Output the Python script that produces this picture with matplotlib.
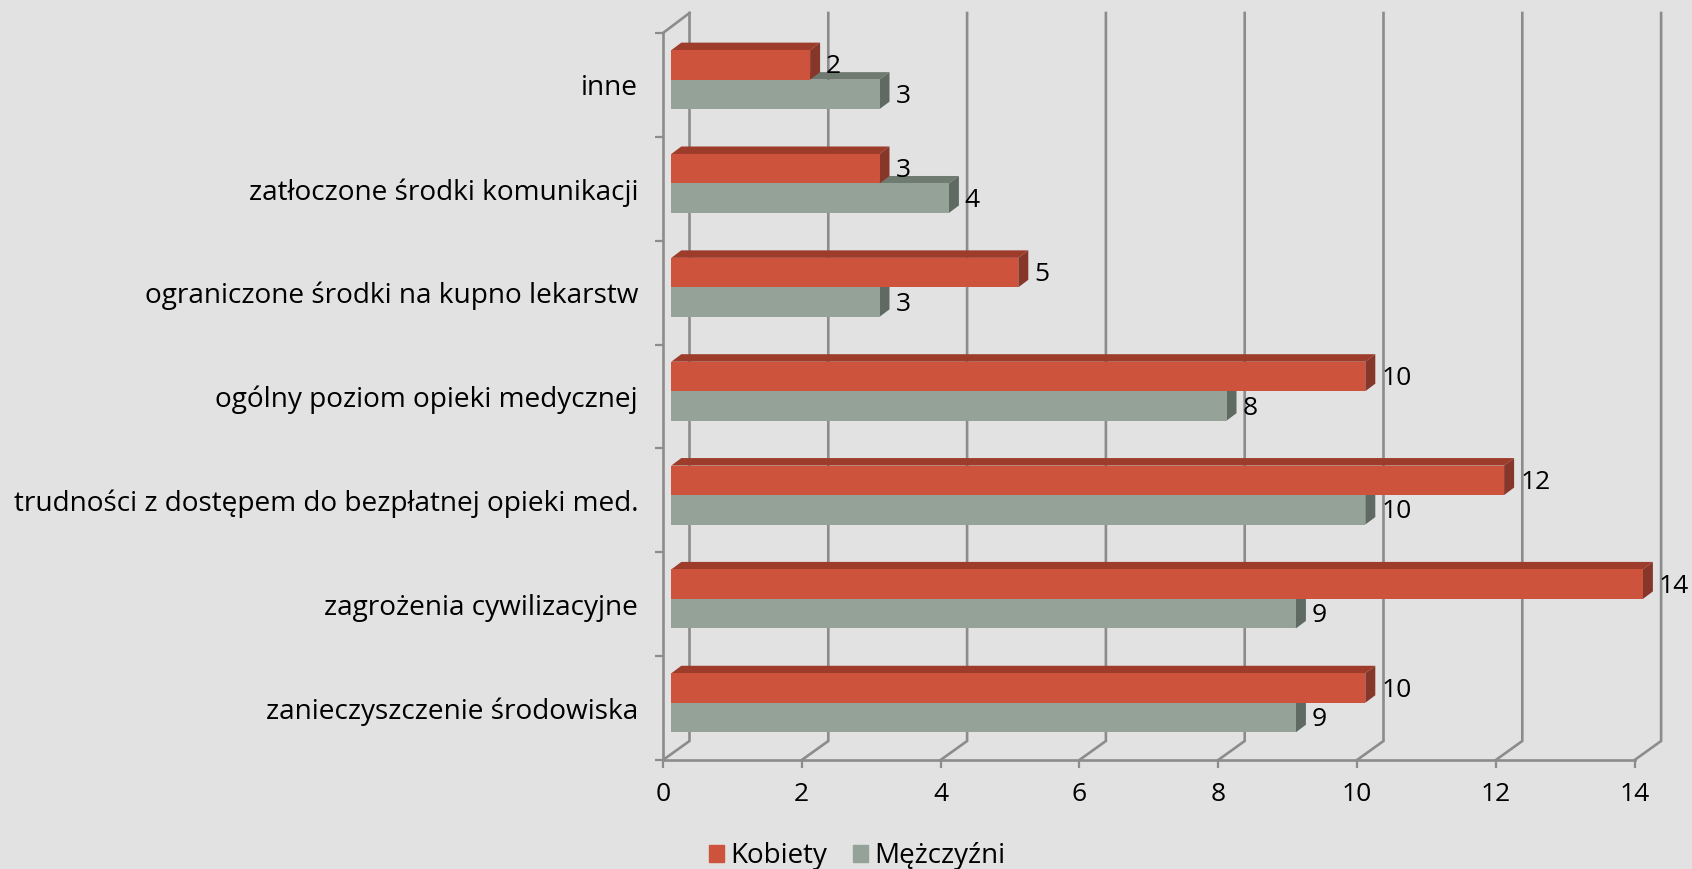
import matplotlib
matplotlib.use('Agg')
import matplotlib.pyplot as plt
from matplotlib.patches import Polygon, Patch
import numpy as np

plt.rcParams['font.family'] = ['Open Sans', 'DejaVu Sans']

categories = ['zanieczyszczenie środowiska', 'zagrożenia cywilizacyjne',
              'trudności z dostępem do bezpłatnej opieki med.',
              'ogólny poziom opieki medycznej', 'ograniczone środki na kupno lekarstw',
              'zatłoczone środki komunikacji', 'inne']
kobiety = [10, 14, 12, 10, 5, 3, 2]
mezczyzni = [9, 9, 10, 8, 3, 4, 3]
xticks = [0, 2, 4, 6, 8, 10, 12, 14]

W, H = 1692, 869
left, right, top, bottom = 663, 1634.6, 33, 760
px_x = 14 / (right - left)      # one pixel in x units
px_y = 7 / (bottom - top)       # one pixel in y units

fig = plt.figure(figsize=(W / 100, H / 100), dpi=100, facecolor='#e2e2e2')
ax = fig.add_axes([left / W, 1 - bottom / H, (right - left) / W, (bottom - top) / H])
ax.set_facecolor('none')
ax.set_xlim(0, 14)
ax.set_ylim(-0.5, 6.5)

line_c = '#8c8c8c'
# back wall and floor lines
back_x, back_y = 26.5 * px_x, 19 * px_y
wall_top = 6.5 + 20 * px_y
for v in xticks:
    ax.plot([v, v + back_x, v + back_x], [-0.5, -0.5 + back_y, wall_top], color=line_c, lw=1.9,
            clip_on=False, zorder=1, solid_joinstyle='miter')
ax.plot([0, back_x], [6.5, wall_top], color=line_c, lw=1.9, clip_on=False, zorder=1)

bar_h = 29.5 * px_y
start = 8.3 * px_x
dx, dy = 10 * px_x, 7.5 * px_y


def bar3d(v, y0, front, topc, side):
    x0 = start
    x1 = start + v
    y1 = y0 + bar_h
    ax.add_patch(Polygon([(x0, y1), (x1, y1), (x1 + dx, y1 + dy), (x0 + dx, y1 + dy)],
                         color=topc, lw=0, zorder=2, clip_on=False))
    ax.add_patch(Polygon([(x1, y0), (x1 + dx, y0 + dy), (x1 + dx, y1 + dy), (x1, y1)],
                         color=side, lw=0, zorder=2, clip_on=False))
    ax.add_patch(Polygon([(x0, y0), (x1, y0), (x1, y1), (x0, y1)],
                         color=front, lw=0, zorder=2, clip_on=False))


red = '#ce533c'
grey = '#94a298'
for i in range(len(categories)):
    mid = i + 5.3 * px_y
    bar3d(mezczyzni[i], mid - bar_h, grey, '#6f7b70', '#5f6a62')
    bar3d(kobiety[i], mid, red, '#9d3c2b', '#87362a')
    ax.annotate(str(mezczyzni[i]), (start + mezczyzni[i], mid - bar_h / 2), xytext=(11.5, -1.5),
                textcoords='offset points', va='center', ha='left', fontsize=19, color='black',
                zorder=5, annotation_clip=False)
    ax.annotate(str(kobiety[i]), (start + kobiety[i], mid + bar_h / 2), xytext=(11.5, -1.5),
                textcoords='offset points', va='center', ha='left', fontsize=19, color='black',
                zorder=5, annotation_clip=False)

for s in ['top', 'right']:
    ax.spines[s].set_visible(False)
for s in ['left', 'bottom']:
    ax.spines[s].set_color(line_c)
    ax.spines[s].set_linewidth(1.9)

ax.set_xticks(xticks)
ax.tick_params(axis='x', length=6, width=1.6, color=line_c, labelsize=19, pad=10)
ax.set_yticks(np.arange(-0.5, 7, 1))
ax.set_yticklabels([])
ax.tick_params(axis='y', which='major', length=6, width=1.6, color=line_c)
ax.set_yticks(range(len(categories)), minor=True)
ax.set_yticklabels(categories, minor=True, fontsize=20.2)
ax.tick_params(axis='y', which='minor', length=0, pad=18)

handles = [Patch(color=red, label='Kobiety'), Patch(color=grey, label='Mężczyźni')]
fig.legend(handles=handles, loc='center left', bbox_to_anchor=(709 / W, 1 - 856 / H), ncol=2, frameon=False,
           fontsize=20, handlelength=0.55, handleheight=0.55, handletextpad=0.2, columnspacing=0.95,
           borderpad=0, borderaxespad=0)

plt.savefig('out.png', dpi=100, facecolor=fig.get_facecolor())
